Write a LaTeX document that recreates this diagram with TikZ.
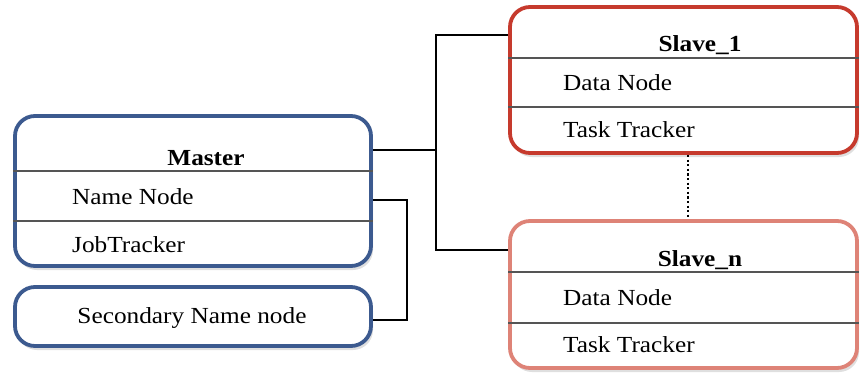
\documentclass[tikz,border=0pt]{standalone}
\usepackage{fontspec}
\setmainfont{Liberation Serif}[FakeStretch=1.1]
\usetikzlibrary{shadows}
\definecolor{mblue}{HTML}{3C5A8F}
\definecolor{sred}{HTML}{C63A2D}
\definecolor{ssalmon}{HTML}{DE8377}
\definecolor{sepgrey}{HTML}{555555}
\tikzset{
  boxbase/.style={rectangle, rounded corners=20pt, line width=3.8pt, fill=white, inner sep=0pt,
    drop shadow={opacity=0.25, shadow xshift=2pt, shadow yshift=-4pt}},
  bluebox/.style={boxbase, draw=mblue},
  redbox/.style={boxbase, draw=sred},
  salmonbox/.style={boxbase, draw=ssalmon},
  sepline/.style={draw=sepgrey, line width=1.2pt},
  conn/.style={draw=black, line width=2.8pt},
  dotconn/.style={draw=black, line width=2.6pt, dash pattern=on 2.2pt off 2.4pt},
  txt/.style={font=\fontsize{23}{27}\selectfont, inner sep=0pt},
  ttl/.style={font=\fontsize{23}{27}\selectfont\bfseries, inner sep=0pt},
}
\begin{document}
\begin{tikzpicture}[x=1pt, y=-1pt]
\useasboundingbox (0,0) rectangle (863,376);
% boxes
\node[bluebox, minimum width=356pt, minimum height=150pt] (master) at (193,191) {};
\node[bluebox, minimum width=356pt, minimum height=59pt] (sec) at (193,316.5) {};
\node[redbox, minimum width=347pt, minimum height=146pt] (s1) at (683.5,80) {};
\node[salmonbox, minimum width=347pt, minimum height=147pt] (sn) at (683.5,294.5) {};
% separators
\draw[sepline] (master.west |- 0,171) -- (master.east |- 0,171);
\draw[sepline] (master.west |- 0,221) -- (master.east |- 0,221);
\draw[sepline] (s1.west |- 0,58) -- (s1.east |- 0,58);
\draw[sepline] (s1.west |- 0,107) -- (s1.east |- 0,107);
\draw[sepline] (sn.west |- 0,272) -- (sn.east |- 0,272);
\draw[sepline] (sn.west |- 0,323) -- (sn.east |- 0,323);
% texts
\node[ttl] (mt) at (206,158) {Master};
\node[txt, anchor=west] (mnn) at (72,197) {Name Node};
\node[txt, anchor=west] (mjt) at (72,245) {JobTracker};
\node[txt] (st) at (192,318) {Secondary Name node};
\node[ttl] (s1t) at (700,45) {Slave\_1};
\node[txt, anchor=west] (s1d) at (563,83) {Data Node};
\node[txt, anchor=west] (s1k) at (563,130) {Task Tracker};
\node[ttl] (snt) at (700,260) {Slave\_n};
\node[txt, anchor=west] (snd) at (563,298) {Data Node};
\node[txt, anchor=west] (snk) at (563,345) {Task Tracker};
% connectors
\coordinate (jm) at (436,150);
\coordinate (j1) at (436,35);
\coordinate (j2) at (436,250);
\coordinate (k1) at (407,200);
\coordinate (k2) at (407,320);
\coordinate (dx) at (688,0);
\draw[conn] (master.east |- jm) -- (jm);
\draw[conn] (s1.west |- j1) -- (j1) -- (j2) -- (sn.west |- j2);
\draw[conn] (master.east |- k1) -- (k1) -- (k2) -- (sec.east |- k2);
\draw[dotconn] (s1.south -| dx) -- (sn.north -| dx);
\end{tikzpicture}
\end{document}
